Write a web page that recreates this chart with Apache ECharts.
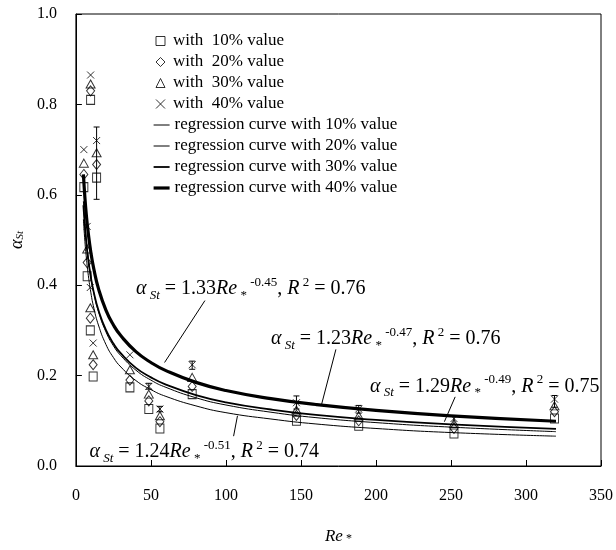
<!DOCTYPE html>
<html><head><meta charset="utf-8">
<script src="https://cdn.jsdelivr.net/npm/echarts/dist/echarts.min.js"></script>
<style>html,body{margin:0;padding:0;background:#fff}#c{width:616px;height:550px}</style>
</head><body><div id="c"></div>
<script>
// ---- measured points (x = Re*, values for each percentage) ----
const groupX = [5.3, 7.5, 9.8, 13.8, 9.6, 11.5, 36, 48.6, 56, 77.5, 147, 188.5, 252, 319];
const v10 = [0.617, 0.42, 0.81, 0.638, 0.30, 0.198, 0.174, 0.126, 0.083, 0.159, 0.100, 0.089, 0.072, 0.105];
const v20 = [0.645, 0.45, 0.83, 0.667, 0.327, 0.224, 0.190, 0.144, 0.098, 0.176, 0.112, 0.100, 0.083, 0.120];
const v30 = [0.670, 0.48, 0.845, 0.693, 0.350, 0.246, 0.213, 0.159, 0.111, 0.196, 0.124, 0.111, 0.094, 0.133];
const v40 = [0.700, 0.53, 0.865, 0.720, 0.395, 0.272, 0.246, 0.176, 0.126, 0.224, 0.140, 0.126, 0.105, 0.148];

// error bars: x, low, high
const errX  = [13.8, 48.6, 56, 77.5, 147, 188.5, 252, 319];
const errLo = [0.59, 0.170, 0.120, 0.214, 0.126, 0.117, 0.092, 0.130];
const errHi = [0.75, 0.183, 0.132, 0.232, 0.155, 0.134, 0.110, 0.156];

// regression curves
const curveX = [5, 6, 7, 8, 10, 12, 15, 20, 25, 30, 40, 50, 60, 80, 100, 130, 160, 200, 250, 320];
const c10 = [0.546, 0.497, 0.460, 0.429, 0.383, 0.349, 0.312, 0.269, 0.240, 0.219, 0.189, 0.169, 0.154, 0.133, 0.118, 0.104, 0.093, 0.083, 0.074, 0.066];
const c20 = [0.586, 0.536, 0.497, 0.466, 0.417, 0.382, 0.342, 0.297, 0.266, 0.244, 0.212, 0.190, 0.174, 0.151, 0.135, 0.119, 0.107, 0.096, 0.086, 0.076];
const c30 = [0.577, 0.530, 0.493, 0.463, 0.417, 0.383, 0.345, 0.301, 0.271, 0.249, 0.217, 0.196, 0.180, 0.157, 0.141, 0.125, 0.113, 0.102, 0.092, 0.082];
const c40 = [0.645, 0.594, 0.554, 0.522, 0.472, 0.435, 0.393, 0.345, 0.312, 0.288, 0.253, 0.229, 0.211, 0.185, 0.167, 0.149, 0.136, 0.123, 0.111, 0.099];

// legend names
const pointNames = ['with  10% value', 'with  20% value', 'with  30% value', 'with  40% value'];
const curveNames = ['regression curve with 10% value', 'regression curve with 20% value', 'regression curve with 30% value', 'regression curve with 40% value'];

// annotations (equation labels) in data coordinates
const annCoef = ['1.33', '1.23', '1.29', '1.24'];
const annExp  = ['-0.45', '-0.47', '-0.49', '-0.51'];
const annR2   = ['0.76', '0.76', '0.75', '0.74'];
const annX    = [40.0, 130.0, 196.0, 9.0];
const annY    = [0.392, 0.281, 0.176, 0.031];
// arrows [fromX, fromY, toX, toY]
const arrows = [
  [86.0, 0.366, 59.1, 0.229],
  [173.3, 0.258, 163.5, 0.133],
  [252.8, 0.153, 245.6, 0.098],
  [105.1, 0.066, 107.7, 0.111]
];

const FONT = 'Liberation Serif';
const zip = (xs, ys) => xs.map((x, i) => [x, ys[i]]);

const symbols = ['rect', 'diamond', 'triangle', 'path://M0,0L10,10M10,0L0,10'];
const symSizes = [[8, 9], [8, 10], [9, 8], [7, 7]];
const vals = [v10, v20, v30, v40];
const curves = [c10, c20, c30, c40];
const widths = [1, 1, 1.8, 3.2];

const series = [];
for (let k = 0; k < 4; k++) {
  series.push({
    name: curveNames[k], type: 'line', data: zip(curveX, curves[k]),
    symbol: 'none', smooth: 0.5,
    lineStyle: { color: '#000', width: widths[k] }, itemStyle: { color: '#000' },
    z: 2, animation: false,
    markLine: k === 0 ? {
      silent: true, symbol: ['none', 'arrow'], symbolSize: [0, 7], animation: false,
      lineStyle: { color: '#000', width: 1, type: 'solid' }, label: { show: false },
      data: arrows.map(a => [{ coord: [a[0], a[1]] }, { coord: [a[2], a[3]] }])
    } : undefined
  });
}
for (let k = 0; k < 4; k++) {
  series.push({
    name: pointNames[k], type: 'scatter', data: zip(groupX, vals[k]),
    symbol: symbols[k], symbolSize: symSizes[k], symbolKeepAspect: true,
    itemStyle: { color: 'rgba(0,0,0,0)', borderColor: '#000', borderWidth: 1 },
    z: 4, animation: false
  });
}
series.push({
  type: 'custom', z: 3, animation: false,
  data: errX.map((x, i) => [x, errLo[i], errHi[i]]),
  encode: { x: 0, y: [1, 2] },
  renderItem: function (params, api) {
    const x = api.value(0);
    const p1 = api.coord([x, api.value(1)]);
    const p2 = api.coord([x, api.value(2)]);
    const w = 3;
    const st = { stroke: '#000', lineWidth: 1 };
    return { type: 'group', children: [
      { type: 'line', shape: { x1: p1[0], y1: p1[1], x2: p2[0], y2: p2[1] }, style: st },
      { type: 'line', shape: { x1: p1[0] - w, y1: p1[1], x2: p1[0] + w, y2: p1[1] }, style: st },
      { type: 'line', shape: { x1: p2[0] - w, y1: p2[1], x2: p2[0] + w, y2: p2[1] }, style: st }
    ]};
  }
});

const legendText = { fontFamily: FONT, fontSize: 17, color: '#000', lineHeight: 18 };
const option = {
  backgroundColor: '#fff',
  animation: false,
  grid: { left: 68, right: 15, top: 14, bottom: 78, show: true, borderColor: '#000', borderWidth: 1 },
  legend: [
    {
      orient: 'vertical', left: 150.5, top: 27, itemGap: 3, itemWidth: 9, itemHeight: 9,
      data: pointNames.map(n => ({ name: n })),
      itemStyle: { borderWidth: 'inherit' },
      textStyle: Object.assign({ padding: [0, 0, 0, 3] }, legendText)
    },
    {
      orient: 'vertical', left: 147, top: 111, itemGap: 3, itemWidth: 16, itemHeight: 9,
      data: curveNames.map((n, k) => ({ name: n, lineStyle: { width: widths[k], color: '#000' }, itemStyle: { opacity: 0, borderWidth: 0 } })),
      lineStyle: { width: 'inherit' },
      textStyle: legendText
    }
  ],
  xAxis: {
    type: 'value', min: 0, max: 350, interval: 50,
    name: '{i|Re}{s| *}', nameLocation: 'middle', nameGap: 62,
    nameTextStyle: { rich: {
      i: { fontFamily: FONT, fontStyle: 'italic', fontSize: 17, color: '#000' },
      s: { fontFamily: FONT, fontSize: 12, color: '#000', verticalAlign: 'bottom', lineHeight: 12 }
    } },
    axisLine: { lineStyle: { color: '#000', width: 1 } },
    axisTick: { inside: true, length: 6, lineStyle: { color: '#000' } },
    axisLabel: { fontFamily: FONT, fontSize: 16, color: '#000', margin: 22 },
    splitLine: { show: false }
  },
  yAxis: {
    type: 'value', min: 0, max: 1, interval: 0.2,
    name: '{g|α}{s|St}', nameLocation: 'middle', nameGap: 46,
    nameTextStyle: { rich: {
      g: { fontFamily: FONT, fontStyle: 'italic', fontSize: 18, color: '#000' },
      s: { fontFamily: FONT, fontStyle: 'italic', fontSize: 11, color: '#000', verticalAlign: 'bottom', lineHeight: 12 }
    } },
    axisLine: { lineStyle: { color: '#000', width: 1 } },
    axisTick: { inside: true, length: 6, lineStyle: { color: '#000' } },
    axisLabel: { fontFamily: FONT, fontSize: 16, color: '#000', margin: 19, formatter: v => v.toFixed(1) },
    splitLine: { show: false }
  },
  series: series
};

const chart = echarts.init(document.getElementById('c'), null, { renderer: 'canvas' });
chart.setOption(option);

const rich = {
  g: { fontFamily: FONT, fontStyle: 'italic', fontSize: 20, fill: '#000', lineHeight: 26 },
  s: { fontFamily: FONT, fontStyle: 'italic', fontSize: 13, fill: '#000', verticalAlign: 'bottom', lineHeight: 14 },
  st: { fontFamily: FONT, fontSize: 13, fill: '#000', verticalAlign: 'bottom', lineHeight: 14 },
  n: { fontFamily: FONT, fontSize: 20, fill: '#000', lineHeight: 26 },
  i: { fontFamily: FONT, fontStyle: 'italic', fontSize: 20, fill: '#000', lineHeight: 26 },
  p: { fontFamily: FONT, fontSize: 13, fill: '#000', verticalAlign: 'top', lineHeight: 14 }
};
const graphics = annCoef.map((c, k) => {
  const p = chart.convertToPixel({ gridIndex: 0 }, [annX[k], annY[k]]);
  return {
    type: 'text', x: p[0], y: p[1], silent: true, z: 10,
    style: {
      text: '{g|α}{s| St}{n| = ' + c + '}{i|Re}{st| *}{p| ' + annExp[k] + '}{n|, }{i|R}{p| 2}{n| = ' + annR2[k] + '}',
      rich: rich, verticalAlign: 'middle', align: 'left'
    }
  };
});
chart.setOption({ graphic: graphics });
</script>
</body></html>
